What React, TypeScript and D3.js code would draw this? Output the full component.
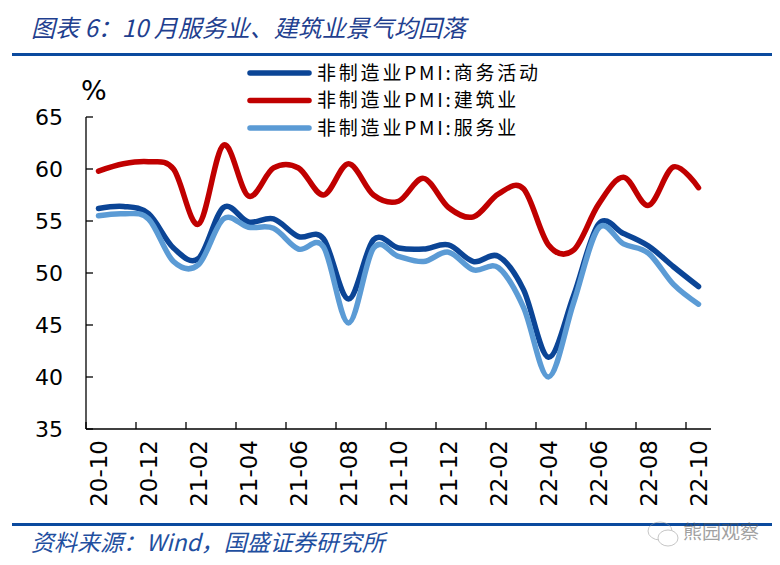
import { useRef, useEffect } from 'react';
import * as d3 from 'd3';

const months = [
  '20-10', '20-11', '20-12', '21-01', '21-02', '21-03', '21-04', '21-05', '21-06',
  '21-07', '21-08', '21-09', '21-10', '21-11', '21-12', '22-01', '22-02', '22-03',
  '22-04', '22-05', '22-06', '22-07', '22-08', '22-09', '22-10',
];

// 非制造业PMI:商务活动
const business = [
  56.2, 56.4, 55.7, 52.4, 51.4, 56.3, 54.9, 55.2, 53.5, 53.3, 47.5, 53.2, 52.4,
  52.3, 52.7, 51.1, 51.6, 48.4, 41.9, 47.8, 54.7, 53.8, 52.6, 50.6, 48.7,
];
// 非制造业PMI:建筑业
const construction = [
  59.8, 60.5, 60.7, 60.0, 54.7, 62.3, 57.4, 60.1, 60.1, 57.5, 60.5, 57.5, 56.9,
  59.1, 56.3, 55.4, 57.6, 58.1, 52.7, 52.2, 56.6, 59.2, 56.5, 60.2, 58.2,
];
// 非制造业PMI:服务业
const services = [
  55.5, 55.7, 55.2, 51.1, 50.8, 55.2, 54.4, 54.3, 52.3, 52.5, 45.2, 52.4, 51.6,
  51.1, 52.0, 50.3, 50.5, 46.7, 40.0, 47.1, 54.3, 52.8, 51.9, 48.9, 47.0,
];

const seriesNames = ['非制造业PMI:商务活动', '非制造业PMI:建筑业', '非制造业PMI:服务业'];
const seriesColors = ['#0B4596', '#C00000', '#5B9BD5'];
const yTicks = [35, 40, 45, 50, 55, 60, 65];

const W = 780;
const H = 565;

export default function App(): JSX.Element {
  const svgRef = useRef<SVGSVGElement | null>(null);

  useEffect(() => {
    if (!svgRef.current) return;
    const svg = d3.select(svgRef.current);
    svg.selectAll('*').remove();

    const left = 86;
    const right = 711;
    const top = 117;
    const bottom = 429;

    const x = d3.scaleBand<string>().domain(months).range([left, right]).padding(0);
    const y = d3.scaleLinear().domain([35, 65]).range([bottom, top]);
    const cx = (m: string) => (x(m) ?? 0) + x.bandwidth() / 2;

    const blue = '#0B4A9E';

    // title + rules
    svg.append('text')
      .attr('x', 31).attr('y', 37)
      .attr('font-family', '"Noto Sans CJK SC", sans-serif')
      .attr('font-size', 24).attr('font-style', 'italic')
      .attr('fill', '#1F3F8F')
      .text('图表 6：10 月服务业、建筑业景气均回落');
    svg.append('rect').attr('x', 12).attr('y', 53).attr('width', 760).attr('height', 3).attr('fill', blue);
    svg.append('rect').attr('x', 12).attr('y', 523).attr('width', 760).attr('height', 3).attr('fill', blue);
    svg.append('text')
      .attr('x', 31).attr('y', 551)
      .attr('font-family', '"Noto Sans CJK SC", sans-serif')
      .attr('font-size', 23).attr('font-style', 'italic')
      .attr('fill', '#1F4FA0')
      .text('资料来源：Wind，国盛证券研究所');

    // watermark
    const wm = svg.append('g').attr('opacity', 0.55);
    wm.append('ellipse').attr('cx', 660).attr('cy', 531).attr('rx', 12).attr('ry', 9)
      .attr('fill', 'none').attr('stroke', '#999').attr('stroke-width', 1);
    wm.append('ellipse').attr('cx', 668).attr('cy', 538).attr('rx', 10).attr('ry', 8)
      .attr('fill', 'white').attr('stroke', '#999').attr('stroke-width', 1);
    wm.append('text')
      .attr('x', 683).attr('y', 539)
      .attr('font-family', '"Noto Sans CJK SC", sans-serif')
      .attr('font-size', 19).attr('fill', '#555')
      .text('熊园观察');

    // axes
    const axisG = svg.append('g').attr('stroke', '#000').attr('stroke-width', 1.3);
    axisG.append('line').attr('x1', left).attr('x2', left).attr('y1', top).attr('y2', bottom);
    axisG.append('line').attr('x1', left).attr('x2', right).attr('y1', bottom).attr('y2', bottom);
    yTicks.forEach((t) => {
      axisG.append('line').attr('x1', left).attr('x2', left + 7).attr('y1', y(t)).attr('y2', y(t));
    });
    months.forEach((m, i) => {
      if (i % 2 === 0) {
        const xx = x(m) ?? 0;
        axisG.append('line').attr('x1', xx).attr('x2', xx).attr('y1', bottom).attr('y2', bottom - 7);
      }
    });

    svg.append('g')
      .selectAll('text')
      .data(yTicks)
      .join('text')
      .attr('x', 63)
      .attr('y', (d) => y(d))
      .attr('dy', '0.36em')
      .attr('text-anchor', 'end')
      .attr('font-family', '"DejaVu Sans", sans-serif')
      .attr('font-size', 22)
      .attr('fill', '#000')
      .text((d) => d);

    svg.append('text')
      .attr('x', 81).attr('y', 100)
      .attr('font-family', '"DejaVu Sans", sans-serif')
      .attr('font-size', 27)
      .attr('fill', '#000')
      .text('%');

    svg.append('g')
      .selectAll('text')
      .data(months.filter((_, i) => i % 2 === 0))
      .join('text')
      .attr('transform', (d) => `translate(${cx(d)},${bottom + 11}) rotate(-90)`)
      .attr('dy', '0.36em')
      .attr('text-anchor', 'end')
      .attr('font-family', '"DejaVu Sans", sans-serif')
      .attr('font-size', 23)
      .attr('fill', '#000')
      .text((d) => d);

    // lines
    const line = d3.line<number>()
      .x((_, i) => cx(months[i]))
      .y((d) => y(d))
      .curve(d3.curveCardinal.tension(0));

    [business, construction, services].forEach((s, k) => {
      svg.append('path')
        .attr('d', line(s) ?? '')
        .attr('fill', 'none')
        .attr('stroke', seriesColors[k])
        .attr('stroke-width', 5.5)
        .attr('stroke-linecap', 'round')
        .attr('stroke-linejoin', 'round');
    });

    // legend
    const lg = svg.append('g');
    seriesNames.forEach((name, k) => {
      const yy = 73 + k * 27.5;
      lg.append('line')
        .attr('x1', 250).attr('x2', 309).attr('y1', yy).attr('y2', yy)
        .attr('stroke', seriesColors[k]).attr('stroke-width', 5.5).attr('stroke-linecap', 'round');
      lg.append('text')
        .attr('x', 317).attr('y', yy)
        .attr('dy', '0.36em')
        .attr('font-family', '"Noto Sans CJK SC", sans-serif')
        .attr('font-size', 19)
        .attr('letter-spacing', 2.8)
        .attr('fill', '#000')
        .text(name);
    });
  }, []);

  return (
    <svg
      ref={svgRef}
      width={W}
      height={H}
      style={{ position: 'absolute', left: 0, top: 0, background: '#fff' }}
    />
  );
}
